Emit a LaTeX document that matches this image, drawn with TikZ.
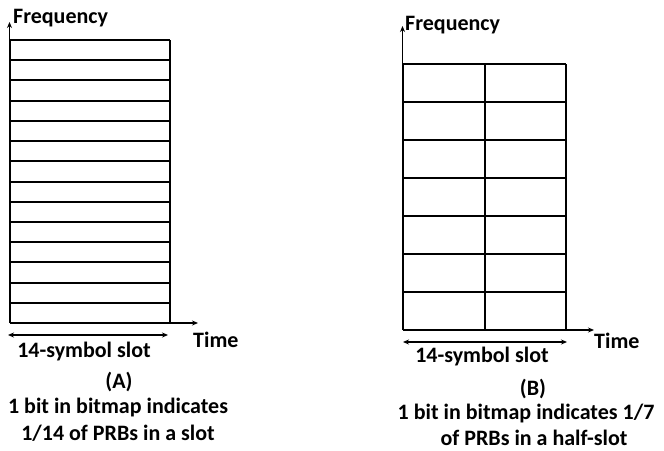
\documentclass[tikz,border=0pt]{standalone}
\usepackage{fontspec}
\setmainfont{Carlito}
\usetikzlibrary{arrows.meta}
\begin{document}
\begin{tikzpicture}[x=1pt,y=-1pt,
  gridln/.style={line width=2pt},
  axis/.style={line width=1.2pt,-{Stealth[length=6pt,width=5pt]}},
  span/.style={line width=1.2pt,{Stealth[length=6pt,width=5pt]}-{Stealth[length=6pt,width=5pt]}},
  lbl/.style={font=\fontsize{22}{26}\selectfont\bfseries, inner sep=0pt}]
\useasboundingbox (0,0) rectangle (664,450);
% ---------- (A) ----------
\coordinate (aO) at (9.5,323);
\coordinate (aF) at (9.5,22);
\coordinate (aT) at (198,323);
\coordinate (aL) at (8,335);
\coordinate (aR) at (168,335);
\foreach \i in {0,...,14} {
  \draw[gridln] (10,{40+\i*283/14}) -- (170,{40+\i*283/14});
}
\draw[gridln] (170,40) -- (170,323);
\draw[gridln] (10,40) -- (10,323);
\draw[axis] (aO) -- (aF);
\draw[axis] (aO) -- (aT);
\draw[span] (aL) -- (aR);
\node[lbl, anchor=west] (afreq) at (13,18) {Frequency};
\node[lbl, anchor=west] (atime) at (193,340) {Time};
\node[lbl] (aslot) at (84,352) {14-symbol slot};
\node[lbl] (alab) at (119,382) {(A)};
\node[lbl] (ad1) at (118,408) {1 bit in bitmap indicates};
\node[lbl] (ad2) at (118,433) {1/14 of PRBs in a slot};
% ---------- (B) ----------
\coordinate (bO) at (402.5,330);
\coordinate (bF) at (402.5,26);
\coordinate (bT) at (594,330);
\coordinate (bL) at (403,342);
\coordinate (bR) at (567,342);
\foreach \i in {0,...,7} {
  \draw[gridln] (403,{64+\i*38}) -- (566,{64+\i*38});
}
\draw[gridln] (403,64) -- (403,330);
\draw[gridln] (485,64) -- (485,330);
\draw[gridln] (566,64) -- (566,330);
\draw[axis] (bO) -- (bF);
\draw[axis] (bO) -- (bT);
\draw[span] (bL) -- (bR);
\node[lbl, anchor=west] (bfreq) at (405,25) {Frequency};
\node[lbl, anchor=west] (btime) at (594,341) {Time};
\node[lbl] (bslot) at (482,357) {14-symbol slot};
\node[lbl] (blab) at (533,389) {(B)};
\node[lbl] (bd1) at (526,414) {1 bit in bitmap indicates 1/7};
\node[lbl] (bd2) at (534,438) {of PRBs in a half-slot};
\end{tikzpicture}
\end{document}
